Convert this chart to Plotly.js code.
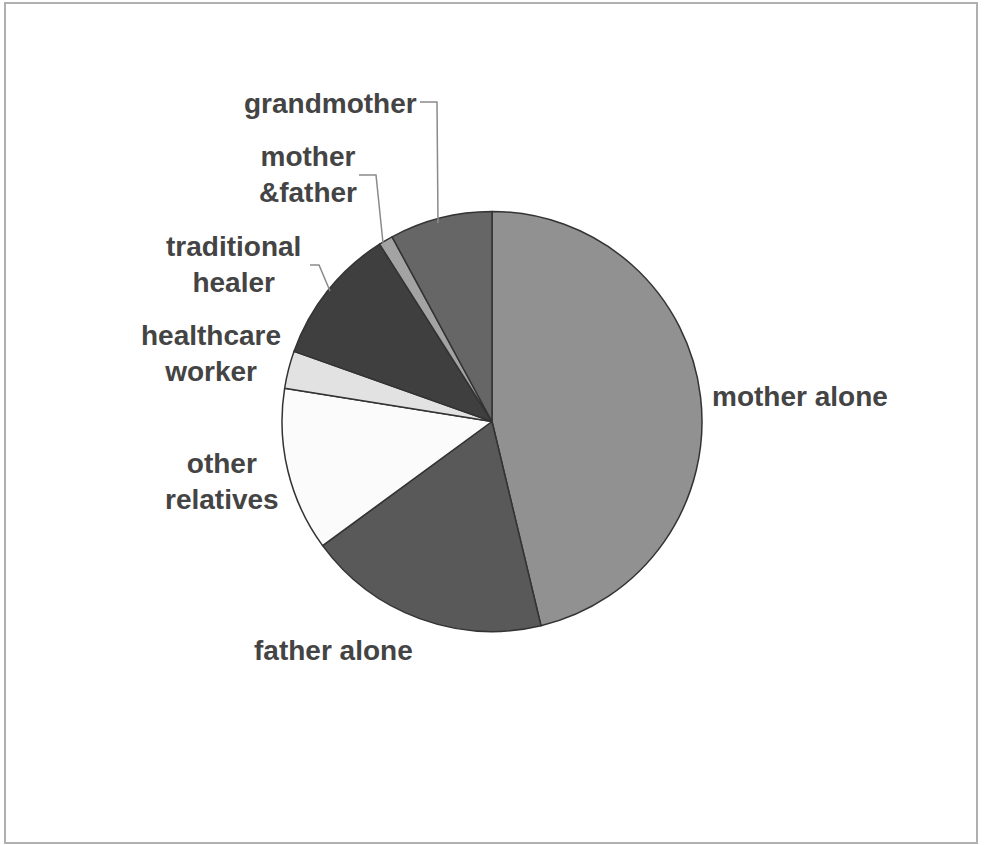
<!DOCTYPE html>
<html>
<head>
<meta charset="utf-8">
<script src="https://cdn.plot.ly/plotly-3.0.1.min.js"></script>
<style>html,body{margin:0;padding:0;background:#fff;}#chart{width:984px;height:845px;}</style>
</head>
<body>
<div id="chart"></div>
<script>
// Data (percent shares)
const categories = ["mother alone", "father alone", "other relatives", "healthcare worker", "traditional healer", "mother &father", "grandmother"];
const values = [46.3, 18.7, 12.6, 2.9, 10.6, 1.1, 7.9];
const sliceColors = ["#919191", "#595959", "#fbfbfb", "#e2e2e2", "#3f3f3f", "#a3a3a3", "#666666"];
const labelTexts = ["mother alone", "father alone", "other<br>relatives", "healthcare<br>worker", "traditional<br>healer", "mother<br>&father", "grandmother"];

const W = 984, H = 845;
const px = x => x / W;
const py = y => 1 - y / H;

// label placement (pixels, layout only)
const labelPos = [
  {x: 710, y: 396, anchor: "left"},
  {x: 333, y: 650, anchor: "center"},
  {x: 222, y: 481, anchor: "center"},
  {x: 211, y: 353, anchor: "center"},
  {x: 233, y: 264, anchor: "center"},
  {x: 308, y: 175, anchor: "center"},
  {x: 330, y: 103, anchor: "center"}
];

const annotations = labelTexts.map((t, i) => ({
  text: t, xref: "paper", yref: "paper",
  x: px(labelPos[i].x), y: py(labelPos[i].y),
  xanchor: labelPos[i].anchor, yanchor: "middle",
  showarrow: false, align: "center",
  font: {family: "Liberation Sans, Arial, sans-serif", size: 28, color: "#444444", weight: "bold"}
}));

function pathPx(pts) {
  return pts.map((p, i) => (i ? "L" : "M") + px(p[0]) + "," + py(p[1])).join(" ");
}
const leaderStyle = {color: "#8a8a8a", width: 1.5};
const shapes = [
  {type: "rect", xref: "paper", yref: "paper", x0: px(5), x1: px(977), y0: py(843), y1: py(3), line: {color: "#b0b0b0", width: 2}, fillcolor: "rgba(0,0,0,0)"},
  {type: "path", xref: "paper", yref: "paper", path: pathPx([[420, 102], [437, 102], [438, 223]]), line: leaderStyle},
  {type: "path", xref: "paper", yref: "paper", path: pathPx([[359, 175], [376, 175], [383, 243]]), line: leaderStyle},
  {type: "path", xref: "paper", yref: "paper", path: pathPx([[310, 265], [319, 265], [330, 291]]), line: leaderStyle}
];

const trace = {
  type: "pie",
  labels: categories,
  values: values,
  sort: false,
  direction: "clockwise",
  rotation: 0,
  textinfo: "none",
  hoverinfo: "label+percent",
  marker: {colors: sliceColors, line: {color: "#333333", width: 1.5}},
  domain: {x: [px(282), px(702)], y: [py(632), py(211)]},
  showlegend: false
};

const layout = {
  width: W, height: H,
  margin: {l: 0, r: 0, t: 0, b: 0},
  paper_bgcolor: "#ffffff",
  plot_bgcolor: "#ffffff",
  showlegend: false,
  annotations: annotations,
  shapes: shapes
};

Plotly.newPlot("chart", [trace], layout, {displayModeBar: false, staticPlot: true});
</script>
</body>
</html>
